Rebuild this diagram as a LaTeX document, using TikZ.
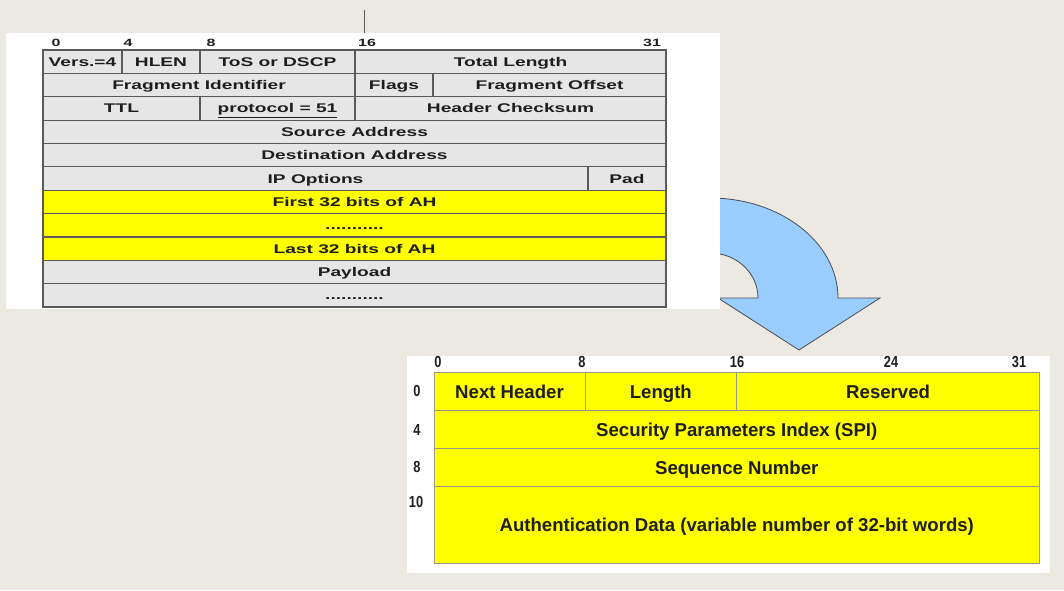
\documentclass[tikz,border=0pt]{standalone}
\usepackage{fontspec}
\setmainfont{Liberation Sans}
\newfontfamily\topfont{Liberation Sans}[FakeStretch=1.52]
\newfontfamily\narrowfont{Liberation Sans}[FakeStretch=0.8]
\definecolor{bg}{HTML}{ECE9E2}
\definecolor{tline}{HTML}{5A5A5A}
\definecolor{tgray}{HTML}{E6E6E6}
\definecolor{txt}{HTML}{1E1E1E}
\definecolor{bline}{HTML}{999988}
\definecolor{ylw}{HTML}{FFFF00}
\definecolor{arrowblue}{HTML}{99CCFF}
\definecolor{arrowline}{HTML}{4D4D4D}
\tikzset{
  tcell/.style={draw=tline, fill=tgray, line width=1.2pt, inner sep=0pt, outer sep=0pt,
    text height=9pt, text depth=0pt,
    font={\topfont\bfseries\fontsize{12.6}{14}\selectfont}, text=txt},
  ycell/.style={tcell, fill=ylw},
  bcell/.style={draw=bline, fill=ylw, line width=1pt, inner sep=0pt, outer sep=0pt,
    text height=13.3pt, text depth=0pt,
    font={\bfseries\fontsize{18.6}{22}\selectfont}, text=txt},
  bitlab/.style={inner sep=0pt, text=txt, font={\topfont\bfseries\fontsize{10.5}{12}\selectfont}},
  bbitlab/.style={inner sep=0pt, text=txt, font={\narrowfont\bfseries\fontsize{16}{18}\selectfont}},
  panel/.style={fill=white, draw=none},
  bigarrow/.style={fill=arrowblue, draw=arrowline, line width=0.8pt, line join=miter},
}
\newcommand\pcell[7]{\node[#7, minimum width={(#4-#2)*1pt}, minimum height={(#5-#3)*1pt}] (#1) at ({(#2+#4)/2},{(#3+#5)/2}) {#6};}
\begin{document}
\begin{tikzpicture}[x=1pt,y=-1pt]
\useasboundingbox (0,0) rectangle (1064,590);
\fill[bg] (0,0) rectangle (1064,590);
% curved arrow
\draw[bigarrow] (710,198) arc[start angle=90, end angle=0, x radius=128pt, y radius=100pt]
  -- (880,298) -- (799,350) -- (718,298) -- (758,298)
  arc[start angle=0, end angle=90, x radius=48pt, y radius=45pt] -- cycle;
% panels
\node[panel, minimum width=714pt, minimum height=276pt, inner sep=0pt] (toppanel) at (363,171) {};
\node[panel, minimum width=643pt, minimum height=217pt, inner sep=0pt] (botpanel) at (728.5,464.5) {};
% marker line
\coordinate (m1) at (364,10);
\coordinate (m2) at (364,33);
\draw[tline, line width=1pt] (m1) -- (m2);
% top bit labels
\node[bitlab] (t0) at (56,43) {0};
\node[bitlab] (t4) at (128,43) {4};
\node[bitlab] (t8) at (211,43) {8};
\node[bitlab] (t16) at (367,43) {16};
\node[bitlab] (t31) at (652,43) {31};
% IPv4 header
\pcell{vers}{43}{50}{122}{73.4}{Vers.=4}{tcell}
\pcell{hlen}{122}{50}{200}{73.4}{HLEN}{tcell}
\pcell{tos}{200}{50}{355}{73.4}{ToS or DSCP}{tcell}
\pcell{totlen}{355}{50}{666}{73.4}{Total Length}{tcell}
\pcell{fragid}{43}{73.4}{355}{96.7}{Fragment Identifier}{tcell}
\pcell{flags}{355}{73.4}{433}{96.7}{Flags}{tcell}
\pcell{fragoff}{433}{73.4}{666}{96.7}{Fragment Offset}{tcell}
\pcell{ttl}{43}{96.7}{200}{120.1}{TTL}{tcell}
\pcell{proto}{200}{96.7}{355}{120.1}{\underline{protocol = 51}}{tcell}
\pcell{hcs}{355}{96.7}{666}{120.1}{Header Checksum}{tcell}
\pcell{src}{43}{120.1}{666}{143.5}{Source Address}{tcell}
\pcell{dst}{43}{143.5}{666}{166.8}{Destination Address}{tcell}
\pcell{ipopt}{43}{166.8}{588}{190.2}{IP Options}{tcell}
\pcell{pad}{588}{166.8}{666}{190.2}{Pad}{tcell}
\pcell{ahfirst}{43}{190.2}{666}{213.5}{First 32 bits of AH}{ycell}
\pcell{ahdots}{43}{213.5}{666}{236.9}{...........}{ycell}
\pcell{ahlast}{43}{236.9}{666}{260.3}{Last 32 bits of AH}{ycell}
\pcell{payload}{43}{260.3}{666}{283.6}{Payload}{tcell}
\pcell{pdots}{43}{283.6}{666}{307}{...........}{tcell}
% AH bit labels
\node[bbitlab] (b0) at (438,362) {0};
\node[bbitlab] (b8) at (582,362) {8};
\node[bbitlab] (b16) at (737,362) {16};
\node[bbitlab] (b24) at (891,362) {24};
\node[bbitlab] (b31) at (1019,362) {31};
% AH row labels
\node[bbitlab] (r0) at (417,391) {0};
\node[bbitlab] (r4) at (417,430) {4};
\node[bbitlab] (r8) at (417,467) {8};
\node[bbitlab] (r10) at (416,502) {10};
% AH header
\pcell{nexth}{434}{372.7}{585}{410.7}{Next Header}{bcell}
\pcell{len}{585}{372.7}{736.7}{410.7}{Length}{bcell}
\pcell{resv}{736.7}{372.7}{1039.5}{410.7}{Reserved}{bcell}
\pcell{spi}{434}{410.7}{1039.5}{448}{Security Parameters Index (SPI)}{bcell}
\pcell{seq}{434}{448}{1039.5}{486.7}{Sequence Number}{bcell}
\pcell{auth}{434}{486.7}{1039.5}{563}{Authentication Data (variable number of 32-bit words)}{bcell}
\end{tikzpicture}
\end{document}
